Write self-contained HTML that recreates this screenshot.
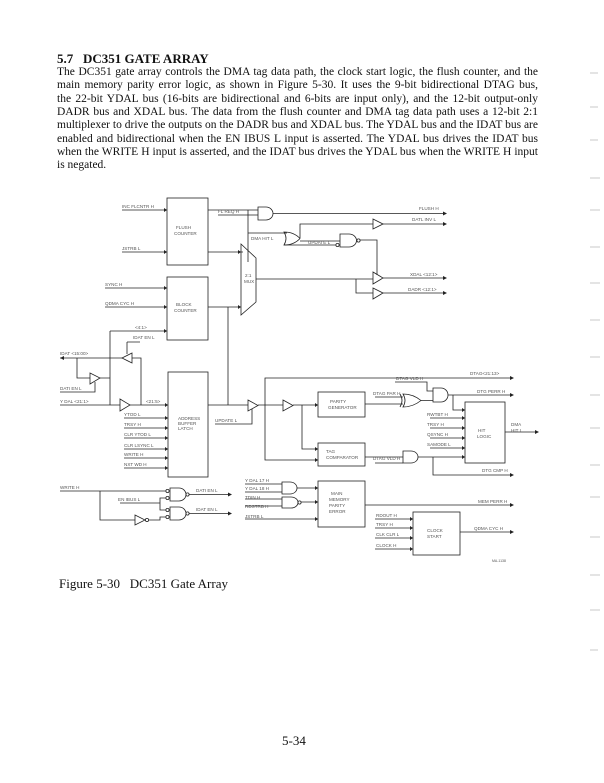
<!DOCTYPE html>
<html><head><meta charset="utf-8"><style>
body{margin:0;background:#fff;width:604px;height:783px;position:relative;overflow:hidden;font-family:"Liberation Serif",serif;color:#111}
.h{position:absolute;left:57px;top:51px;font-size:13px;font-weight:bold}
.p{position:absolute;left:57px;top:66px;width:481px;font-size:11.5px;line-height:13.35px}
.p div{text-align:justify;text-align-last:justify;white-space:nowrap;height:13.35px;overflow:visible}
.p div.l{text-align-last:left}
.cap{position:absolute;left:59px;top:576px;font-size:13px}
.pn{position:absolute;left:282px;top:733px;font-size:13px}
svg{position:absolute;left:0;top:0}
</style></head><body>
<div class="h">5.7&nbsp;&nbsp;&nbsp;DC351 GATE ARRAY</div>
<div class="p">
<div>The DC351 gate array controls the DMA tag data path, the clock start logic, the flush counter, and the</div>
<div>main memory parity error logic, as shown in Figure 5-30. It uses the 9-bit bidirectional DTAG bus,</div>
<div>the 22-bit YDAL bus (16-bits are bidirectional and 6-bits are input only), and the 12-bit output-only</div>
<div>DADR bus and XDAL bus. The data from the flush counter and DMA tag data path uses a 12-bit 2:1</div>
<div>multiplexer to drive the outputs on the DADR bus and XDAL bus. The YDAL bus and the IDAT bus are</div>
<div>enabled and bidirectional when the EN IBUS L input is asserted. The YDAL bus drives the IDAT bus</div>
<div>when the WRITE H input is asserted, and the IDAT bus drives the YDAL bus when the WRITE H input</div>
<div class="l">is negated.</div>
</div>
<div class="cap">Figure 5-30&nbsp;&nbsp;&nbsp;DC351 Gate Array</div>
<div class="pn">5-34</div>
<svg width="604" height="783" viewBox="0 0 604 783" fill="none" stroke="#222" stroke-width="0.8">
<g stroke="#bbb" stroke-width="0.8">
<line x1="590" y1="73" x2="598" y2="73"/><line x1="590" y1="107" x2="598" y2="107"/><line x1="590" y1="140" x2="598" y2="140"/><line x1="590" y1="178" x2="600" y2="178"/><line x1="590" y1="210" x2="600" y2="210"/><line x1="590" y1="247" x2="600" y2="247"/><line x1="590" y1="283" x2="600" y2="283"/><line x1="590" y1="320" x2="600" y2="320"/><line x1="590" y1="357" x2="600" y2="357"/><line x1="590" y1="395" x2="600" y2="395"/><line x1="590" y1="428" x2="600" y2="428"/><line x1="590" y1="465" x2="600" y2="465"/><line x1="590" y1="497" x2="600" y2="497"/><line x1="590" y1="537" x2="600" y2="537"/><line x1="590" y1="575" x2="600" y2="575"/><line x1="590" y1="610" x2="600" y2="610"/><line x1="590" y1="650" x2="598" y2="650"/>
</g>
<rect x="167" y="198" width="41" height="67"/>
<rect x="167" y="277" width="41" height="63"/>
<rect x="168" y="372" width="40" height="105"/>
<rect x="318" y="392" width="47" height="25"/>
<rect x="318" y="443" width="47" height="23"/>
<rect x="318" y="481" width="47" height="46"/>
<rect x="465" y="402" width="40" height="61"/>
<rect x="413" y="512" width="47" height="43"/>
<path d="M241 244 L256 258 L256 302 L241 315 Z"/>
<path d="M258 207 h8 a7 6.5 0 0 1 0 13 h-8 z"/>
<path d="M284 232 q10 0 16 6.5 q-6 6.5 -16 6.5 q4 -6.5 0 -13 z"/>
<path d="M340 234 h9 a7.5 6.5 0 0 1 0 13 h-9 z"/><circle cx="358.5" cy="240.5" r="1.6"/><circle cx="337.5" cy="245" r="1.6"/>
<path d="M373 219 L383 224 L373 229 Z"/>
<path d="M373 272 L383 278 L373 284 Z"/>
<path d="M373 288 L383 293 L373 299 Z"/>
<path d="M122 210 H167 M122 252 H167 M208 210 H258 M218 215 H258 M273 213.5 H443 M248 210 V262 M248 233 H287 M300 238 V224 H373 M383 224 H443 M300 241 H340 M284 245 H336 M360 240 H377 V275 M208 252 H243 M256 279 H373 M356 279 V293 H373 M383 278 H443 M383 293 H443"/>
<path d="M105 288 H167 M105 307 H167 M208 307 H241 M228 307 V405 M110 331 H167 M110 331 V405"/>
<path d="M132 353 L122 358 L132 363 Z"/>
<path d="M90 373 L100 378 L90 384 Z"/>
<path d="M60 358 H122 M132 358 H141 V405 M127 342 H140 M127 342 V354 M77 358 V378 H90 M100 378 H110 M60 392 H95 V382"/>
<path d="M120 399 L130 405 L120 411 Z"/>
<path d="M60 405 H120 M130 405 H168"/>
<path d="M124 418 H168 M124 428 H168 M124 438 H168 M124 449 H168 M124 458 H168 M124 468 H168"/>
<path d="M248 400 L258 405.5 L248 411 Z"/>
<path d="M283 400 L293 405.5 L283 411 Z"/>
<path d="M208 405 H248 M258 405 H283 M215 424 H252 V409 M265 405 V378 H510 M265 405 V460 H318 M293 405 H318 M302 405 V449 H318"/>
<path d="M403 394 q10 0 18 6.5 q-8 6.5 -18 6.5 q4 -6.5 0 -13 z"/><path d="M400 394 q4 6.5 0 13"/>
<path d="M365 404 H403 M375 397 H403 M421 400.5 H433 M395 382 H427 V391 H433"/>
<path d="M433 388 h8 a7 7 0 0 1 0 14 h-8 z"/>
<path d="M448 395 H510 M453 395 V410 H465"/>
<path d="M403 451 h8 a7 6 0 0 1 0 12 h-8 z"/>
<path d="M365 457 H403 M375 463 H403 M418 457 H465 M433 457 V475 H510 M430 418 H465 M430 428 H465 M430 438 H465 M430 448 H465 M505 432 H535"/>
<path d="M282 482 h8 a7 6 0 0 1 0 12 h-8 z"/>
<path d="M282 497 h9 a7 5.5 0 0 1 0 11 h-9 z"/><circle cx="299.5" cy="502.5" r="1.6"/>
<path d="M245 484 H282 M245 492 H282 M245 499 H282 M245 506 H282 M245 519 H318 M297 488 H318 M301 502 H318 M365 505 H510"/>
<path d="M375 519 H413 M375 528 H413 M375 538 H413 M375 549 H413 M460 532 H510"/>
<path d="M170 488 h9 a7 6.5 0 0 1 0 13 h-9 z"/><circle cx="187.5" cy="494.5" r="1.6"/><circle cx="167.5" cy="491" r="1.6"/><circle cx="167.5" cy="498" r="1.6"/>
<path d="M170 507 h9 a7 6.5 0 0 1 0 13 h-9 z"/><circle cx="187.5" cy="513.5" r="1.6"/><circle cx="167.5" cy="510" r="1.6"/><circle cx="167.5" cy="517" r="1.6"/>
<path d="M135 515 L145 520 L135 525 Z"/><circle cx="147" cy="520" r="1.6"/>
<path d="M60 491 H166 M100 491 V520 H135 M149 520 H160 V517 H166 M120 503 H160 V498 H166 M160 503 V510 H166 M189 494.5 H228 M189 513.5 H228"/>
<g fill="#222" stroke="none">
<path d="M443 211.5 l4 2 l-4 2z M443 222 l4 2 l-4 2z M443 276 l4 2 l-4 2z M443 291 l4 2 l-4 2z M510 376 l4 2 l-4 2z M510 393 l4 2 l-4 2z M510 473 l4 2 l-4 2z M535 430 l4 2 l-4 2z M510 503 l4 2 l-4 2z M510 530 l4 2 l-4 2z M228 492.5 l4 2 l-4 2z M228 511.5 l4 2 l-4 2z"/>
<path d="M164 208 l3 2 l-3 2z M164 250 l3 2 l-3 2z M164 286 l3 2 l-3 2z M164 305 l3 2 l-3 2z M164 329 l3 2 l-3 2z M165 403 l3 2 l-3 2z M165 416 l3 2 l-3 2z M165 426 l3 2 l-3 2z M165 436 l3 2 l-3 2z M165 447 l3 2 l-3 2z M165 456 l3 2 l-3 2z M165 466 l3 2 l-3 2z M315 403 l3 2 l-3 2z M315 447 l3 2 l-3 2z M315 458 l3 2 l-3 2z M315 486 l3 2 l-3 2z M315 500 l3 2 l-3 2z M315 517 l3 2 l-3 2z M462 408 l3 2 l-3 2z M462 416 l3 2 l-3 2z M462 426 l3 2 l-3 2z M462 436 l3 2 l-3 2z M462 446 l3 2 l-3 2z M462 455 l3 2 l-3 2z M410 517 l3 2 l-3 2z M410 526 l3 2 l-3 2z M410 536 l3 2 l-3 2z M410 547 l3 2 l-3 2z M238 250 l3 2 l-3 2z M238 305 l3 2 l-3 2z M64 356 l-4 2 l4 2z"/>
</g>
<g fill="#555" stroke="none" font-family="Liberation Sans, sans-serif" font-size="4.6">
<text x="122" y="208">INC FLCNTR H</text><text x="176" y="229">FLUSH</text><text x="174" y="235">COUNTER</text>
<text x="122" y="250">JSTRB L</text><text x="218" y="213">FL REQ H</text>
<text x="251" y="240">DMA HIT L</text><text x="308" y="244">UPDATE L</text>
<text x="419" y="210">FLUSH H</text><text x="412" y="221">DATL INV L</text>
<text x="245" y="277">2:1</text><text x="244" y="283">MUX</text>
<text x="410" y="276">XDAL &lt;12:1&gt;</text><text x="408" y="291">DADR &lt;12:1&gt;</text>
<text x="105" y="286">SYNC H</text><text x="105" y="305">QDMA CYC H</text>
<text x="176" y="306">BLOCK</text><text x="174" y="312">COUNTER</text>
<text x="135" y="329">&lt;4:1&gt;</text><text x="133" y="339">IDAT EN L</text>
<text x="60" y="355">IDAT &lt;15:00&gt;</text><text x="60" y="390">DATI EN L</text>
<text x="60" y="403">Y DAL &lt;21:1&gt;</text><text x="146" y="403">&lt;21:5&gt;</text>
<text x="124" y="416">YTOD L</text><text x="124" y="426">TRSY H</text><text x="124" y="436">CLR YTOD L</text><text x="124" y="447">CLR LSYNC L</text><text x="124" y="456">WRITE H</text><text x="124" y="466">NXT WD H</text>
<text x="178" y="420">ADDRESS</text><text x="178" y="425">BUFFER</text><text x="178" y="430">LATCH</text>
<text x="215" y="422">UPDATE L</text>
<text x="470" y="375">DTAG&lt;21:13&gt;</text><text x="396" y="380">DTAG VLD H</text><text x="373" y="395">DTAG PAR H</text>
<text x="477" y="393">DTG PERR H</text>
<text x="330" y="403">PARITY</text><text x="328" y="409">GENERATOR</text>
<text x="427" y="416">RWTBT H</text><text x="427" y="426">TRSY H</text><text x="427" y="436">QSYNC H</text><text x="427" y="446">SAMODE L</text>
<text x="478" y="432">HIT</text><text x="477" y="438">LOGIC</text>
<text x="511" y="426">DMA</text><text x="511" y="432">HIT L</text>
<text x="326" y="453">TAG</text><text x="326" y="459">COMPARATOR</text><text x="373" y="460">DTAG VLD H</text>
<text x="482" y="472">DTG CMP H</text>
<text x="245" y="482">Y DAL 17 H</text><text x="245" y="490">Y DAL 18 H</text><text x="245" y="499">TDIN H</text><text x="245" y="508">RDSTRB H</text><text x="245" y="518">JSTRB L</text>
<text x="331" y="495">MAIN</text><text x="329" y="501">MEMORY</text><text x="329" y="507">PARITY</text><text x="329" y="513">ERROR</text>
<text x="478" y="503">MEM PERR H</text>
<text x="376" y="517">RDOUT H</text><text x="376" y="526">TRSY H</text><text x="376" y="536">CLK CLR L</text><text x="376" y="547">CLOCK H</text>
<text x="427" y="532">CLOCK</text><text x="427" y="538">START</text><text x="474" y="530">QDMA CYC H</text>
<text x="60" y="489">WRITE H</text><text x="118" y="501">EN IBUS L</text><text x="196" y="492">DATI EN L</text><text x="196" y="511">IDAT EN L</text>
<text x="492" y="562" font-size="3.5">MA-1138</text>
</g>
</svg>
</body></html>
